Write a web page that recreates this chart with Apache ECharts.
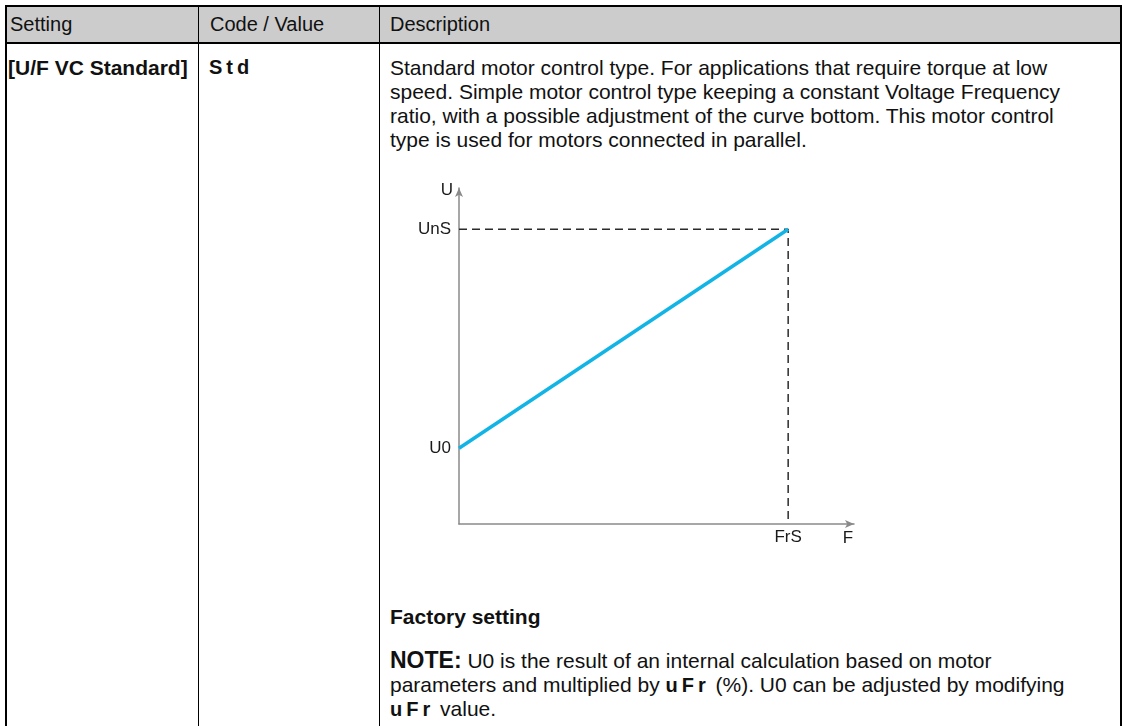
<!DOCTYPE html>
<html>
<head>
<meta charset="utf-8">
<script src="https://cdn.jsdelivr.net/npm/echarts@6/dist/echarts.min.js"></script>
<style>
  html, body { margin: 0; padding: 0; background: #fff; }
  body { width: 1122px; height: 726px; position: relative; overflow: hidden;
         font-family: "Liberation Sans", Arial, sans-serif; color: #111; }
  .abs { position: absolute; }
  .frame { left: 5px; top: 5px; width: 1113px; height: 740px;
           border: 2px solid #000; border-bottom: none; }
  .head { left: 5px; top: 5px; width: 1115px; height: 37px; background: #cccccc;
          border-bottom: 2px solid #000; }
  .vline { top: 5px; width: 1px; height: 740px; background: #000; }
  .txt { font-size: 21px; line-height: 24px; white-space: nowrap; }
  .hd { font-size: 20px; }
  .seg { font-family: "Liberation Sans", Arial, sans-serif; font-weight: bold; font-size: 20px;
         letter-spacing: 4px; }
  .chart { left: 380px; top: 160px; width: 740px; height: 420px; }
</style>
</head>
<body>
<div class="abs head"></div>
<div class="abs frame"></div>
<div class="abs vline" style="left:198px"></div>
<div class="abs vline" style="left:379px"></div>

<div class="abs txt hd" style="left:10px;top:12px">Setting</div>
<div class="abs txt hd" style="left:210px;top:12px">Code / Value</div>
<div class="abs txt hd" style="left:390px;top:12px">Description</div>

<div class="abs txt" style="left:8px;top:56px;font-weight:bold">[U/F VC Standard]</div>
<div class="abs txt seg" style="left:209px;top:55px">Std</div>

<div class="abs txt" style="left:390px;top:56px">
Standard motor control type. For applications that require torque at low<br>
speed. Simple motor control type keeping a constant Voltage Frequency<br>
ratio, with a possible adjustment of the curve bottom. This motor control<br>
type is used for motors connected in parallel.
</div>

<div class="abs chart" id="chart"></div>

<div class="abs txt" style="left:390px;top:605px;font-weight:bold">Factory setting</div>
<div class="abs txt" style="left:390px;top:648px">
<b style="font-size:23px">NOTE:</b> U0 is the result of an internal calculation based on motor<br>
parameters and multiplied by <span class="seg">uFr</span> (%). U0 can be adjusted by modifying<br>
<span class="seg">uFr</span> value.
</div>

<script>
// U/F curve: F relative to FrS, U relative to UnS
const fValues = [0, 1];
const uValues = [0.257, 1];
// dashed guide from UnS across to FrS and down
const guideF = [0, 1, 1];
const guideU = [1, 1, 0];
// tick marks and their labels
const xTicks = [1];
const xTickLabels = ["FrS"];
const yTicks = [0.257, 1];
const yTickLabels = ["U0", "UnS"];

const chart = echarts.init(document.getElementById("chart"));
const axisColor = "#8a8a8a";
const labelStyle = { color: "#1a1a1a", fontSize: 17, fontFamily: "Liberation Sans" };

chart.setOption({
	animation: false,
	grid: { left: 79, top: 28, right: 266, bottom: 56 },
	xAxis: {
		type: "value",
		min: 0,
		max: 1.2,
		name: "F",
		nameLocation: "end",
		nameGap: -6,
		nameTextStyle: Object.assign({ align: "center", verticalAlign: "top", padding: [6, 0, 0, 0] }, labelStyle),
		axisLine: {
			show: true,
			symbol: ["none", "arrow"],
			symbolSize: [6, 9],
			lineStyle: { color: axisColor, width: 1.5 }
		},
		axisTick: { show: false },
		splitLine: { show: false },
		axisLabel: Object.assign({
			customValues: xTicks,
			margin: 5,
			formatter: (v) => xTickLabels[xTicks.indexOf(v)] || ""
		}, labelStyle)
	},
	yAxis: {
		type: "value",
		min: 0,
		max: 1.14,
		name: "U",
		nameLocation: "end",
		nameGap: -2,
		nameTextStyle: Object.assign({ align: "right", verticalAlign: "middle", padding: [0, 6, 0, 0] }, labelStyle),
		axisLine: {
			show: true,
			symbol: ["none", "arrow"],
			symbolSize: [6, 9],
			lineStyle: { color: axisColor, width: 1.5 }
		},
		axisTick: { show: false },
		splitLine: { show: false },
		axisLabel: Object.assign({
			customValues: yTicks,
			margin: 8,
			formatter: (v) => yTickLabels[yTicks.indexOf(v)] || ""
		}, labelStyle)
	},
	series: [{
		type: "line",
		data: guideF.map((f, i) => [f, guideU[i]]),
		symbol: "none",
		lineStyle: { color: "#2b2b2b", width: 1.5, type: [8, 5] },
		z: 2
	}, {
		type: "line",
		data: fValues.map((f, i) => [f, uValues[i]]),
		symbol: "none",
		lineStyle: { color: "#12b4e6", width: 3.5 },
		z: 3
	}]
});
</script>
</body>
</html>
